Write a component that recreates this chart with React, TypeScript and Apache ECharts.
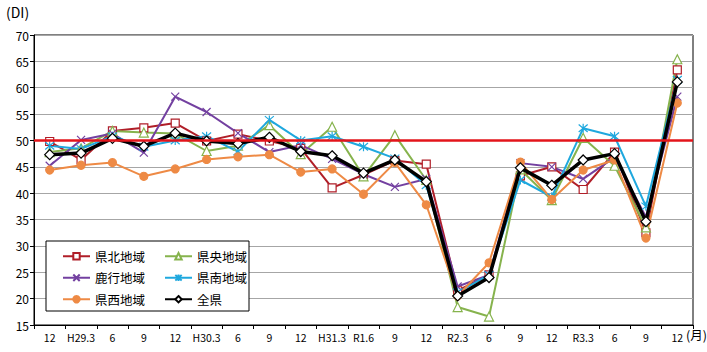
import React, { useEffect, useRef } from "react";
import * as echarts from "echarts";

const categories = ["12", "H29.3", "6", "9", "12", "H30.3", "6", "9", "12", "H31.3", "R1.6", "9", "12", "R2.3", "6", "9", "12", "R3.3", "6", "9", "12"];
const kenpoku = [49.8, 46.3, 51.8, 52.4, 53.3, 49.9, 51.2, 49.9, 48.5, 41.0, 43.5, 46.2, 45.5, 21.5, 24.5, 43.3, 45.0, 40.7, 47.8, 32.5, 63.4];
const kenou = [47.8, 48.5, 51.8, 51.5, 51.3, 48.0, 49.0, 52.9, 47.4, 52.6, 43.2, 51.0, 42.5, 18.4, 16.6, 44.5, 38.7, 50.5, 45.2, 33.5, 65.4];
const rokko = [45.2, 50.1, 51.3, 47.7, 58.3, 55.4, 51.4, 47.8, 49.1, 46.5, 43.6, 41.2, 42.7, 22.3, 24.5, 45.7, 45.0, 42.7, 46.8, 35.5, 58.3];
const kennan = [49.0, 48.4, 50.8, 48.8, 50.0, 50.8, 47.9, 53.9, 50.0, 50.8, 48.8, 46.6, 41.5, 21.2, 24.5, 42.5, 39.3, 52.3, 50.8, 37.5, 61.5];
const kensei = [44.4, 45.3, 45.8, 43.2, 44.6, 46.4, 46.9, 47.3, 44.0, 44.6, 39.8, 45.8, 37.8, 20.5, 26.8, 45.9, 38.8, 44.4, 46.3, 31.5, 57.1];
const zenken = [47.3, 47.6, 50.4, 48.9, 51.4, 49.9, 49.4, 50.6, 47.9, 47.1, 43.8, 46.3, 42.2, 20.5, 24.0, 44.8, 41.5, 46.3, 47.5, 34.6, 61.1];
const referenceLine = 50;

const FONT = "'Noto Sans CJK JP', 'Noto Sans', sans-serif";

export default function App() {
  const ref = useRef<HTMLDivElement>(null);
  useEffect(() => {
    if (!ref.current) return;
    const chart = echarts.init(ref.current, null, { renderer: "svg" });
    const mk = (name: string, data: number[], color: string, symbol: string, size: number, fill: string, width = 2) => ({
      name,
      type: "line",
      data,
      symbol,
      symbolSize: size,
      showAllSymbol: true,
      lineStyle: { color, width },
      itemStyle: { color: fill, borderColor: color, borderWidth: 1.2 },
      emphasis: { disabled: true },
      z: 3,
    });
    const series: any[] = [
      mk("県北地域", kenpoku, "#B01E28", "rect", 8, "#ffffff"),
      mk("県央地域", kenou, "#86B34D", "triangle", 9, "#ffffff"),
      mk("鹿行地域", rokko, "#7340A0", "path://M0,0L10,10M10,0L0,10", 8, "#7340A0"),
      mk("県南地域", kennan, "#1FA8DE", "path://M0,0L10,10M10,0L0,10M5,-1L5,11", 9, "#1FA8DE"),
      mk("県西地域", kensei, "#EE8A45", "circle", 8, "#EE8A45"),
      {
        ...mk("全県", zenken, "#000000", "diamond", 10, "#ffffff", 3.5),
        z: 4,
        markLine: {
          silent: true,
          symbol: ["none", "none"],
          label: { show: false },
          lineStyle: { color: "#E3141B", width: 2.5, type: "solid" },
          data: [{ yAxis: referenceLine }],
        },
      },
    ];
    const legendCommon = {
      orient: "vertical",
      top: 245,
      itemWidth: 27,
      itemHeight: 8,
      itemGap: 9,
      z: 20,
      textStyle: { fontFamily: FONT, fontSize: 12.5, color: "#000" },
      selectedMode: false,
    };
    chart.setOption({
      animation: false,
      grid: { left: 34, right: 14, top: 35, bottom: 27, show: true, borderColor: "#000", borderWidth: 1, backgroundColor: "transparent" },
      xAxis: {
        type: "category",
        data: categories,
        boundaryGap: true,
        axisLine: { lineStyle: { color: "#000", width: 1 } },
        axisTick: { show: true, length: 4, lineStyle: { color: "#000" }, alignWithLabel: false },
        axisLabel: { interval: 0, color: "#000", fontFamily: FONT, fontSize: 10.5, margin: 7 },
      },
      yAxis: {
        type: "value",
        min: 15,
        max: 70,
        interval: 5,
        axisLine: { show: true, lineStyle: { color: "#000" } },
        axisTick: { show: true, length: 4, lineStyle: { color: "#000" } },
        axisLabel: { color: "#000", fontFamily: FONT, fontSize: 12, margin: 5 },
        splitLine: { lineStyle: { color: "#A6A6A6", width: 1 } },
      },
      legend: [
        { ...legendCommon, left: 57, data: ["県北地域", "鹿行地域", "県西地域"] },
        { ...legendCommon, left: 159, data: ["県央地域", "県南地域", "全県"] },
      ],
      graphic: [
        { type: "rect", z: 10, shape: { x: 46, y: 241, width: 203, height: 70 }, style: { fill: "#fff", stroke: "#000", lineWidth: 1 } },
        { type: "text", left: 6, top: 5, style: { text: "(DI)", fontFamily: FONT, fontSize: 14, fill: "#000" } },
        { type: "text", left: 686, top: 328, style: { text: "(月)", fontFamily: FONT, fontSize: 12.5, fill: "#000" } },
      ],
      series,
    });
    return () => chart.dispose();
  }, []);
  return <div ref={ref} style={{ width: 707, height: 352, position: "absolute", left: 0, top: 0 }} />;
}
